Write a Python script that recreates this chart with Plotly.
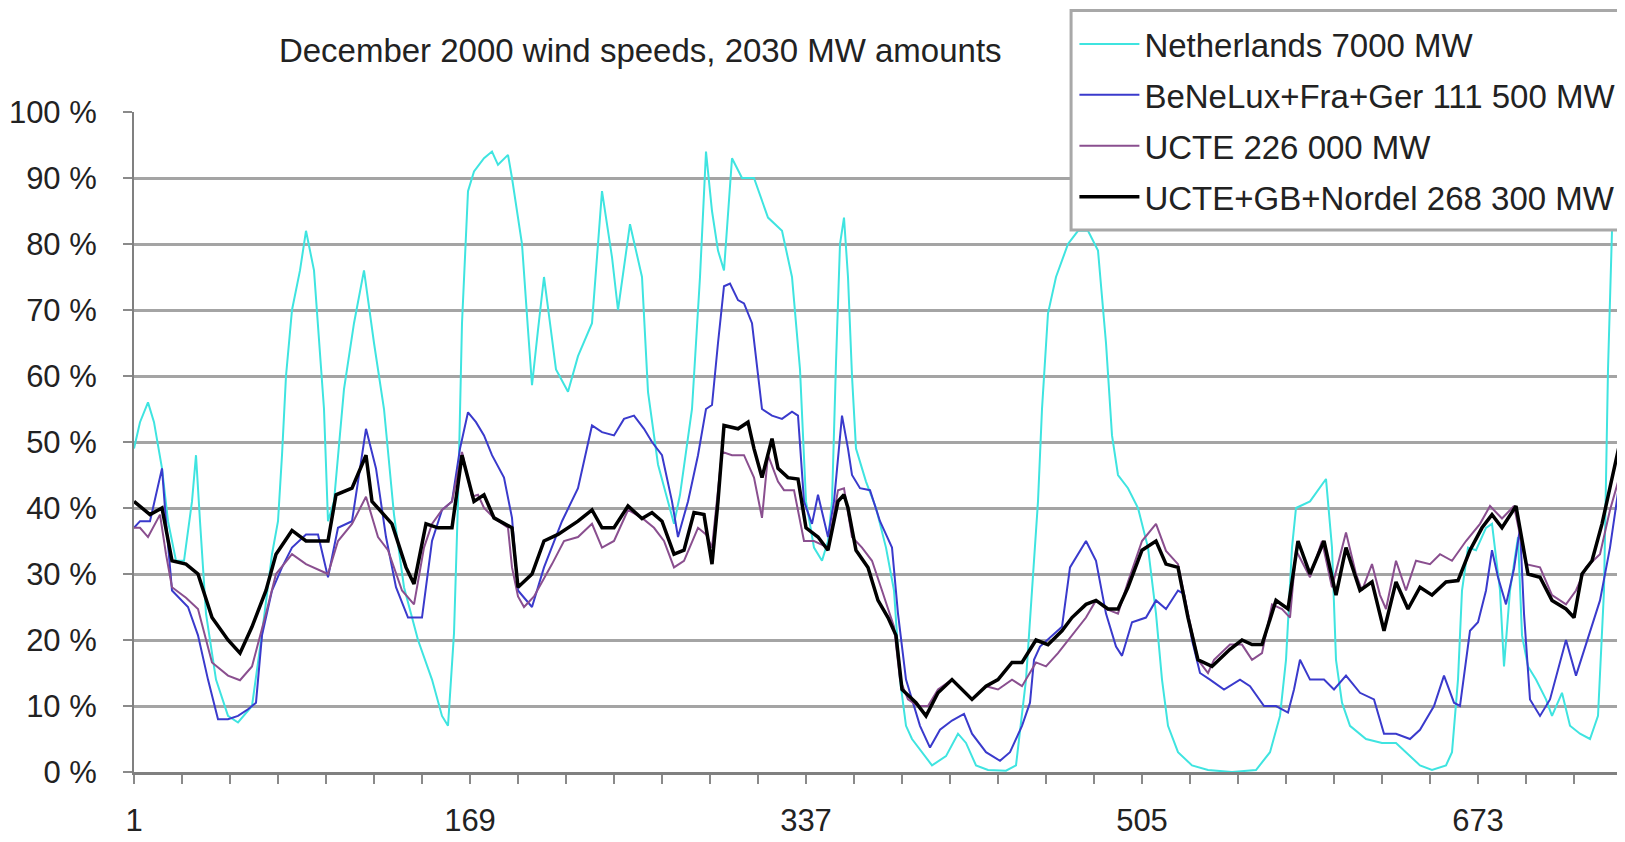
import plotly.graph_objects as go

# ---------------- data (hour of December, % of installed capacity) ----------------
series_names = [
    "Netherlands 7000 MW",
    "BeNeLux+Fra+Ger 111 500 MW",
    "UCTE 226 000 MW",
    "UCTE+GB+Nordel 268 300 MW",
]

x_tick_vals = [1, 169, 337, 505, 673]
x_tick_text = ["1", "169", "337", "505", "673"]
y_tick_vals = [0, 10, 20, 30, 40, 50, 60, 70, 80, 90, 100]
y_tick_text = ["0 %", "10 %", "20 %", "30 %", "40 %", "50 %", "60 %", "70 %", "80 %", "90 %", "100 %"]

netherlands_pts = [
    (1, 49), (4, 53), (8, 56), (11, 53), (15, 46), (18, 38), (22, 32), (26, 32), (30, 41), (32, 48),
    (34, 38), (37, 24), (42, 14), (48, 8.5), (53, 7.5), (60, 10), (65, 21), (70, 33), (73, 38), (75, 48),
    (77, 60), (80, 70), (84, 76), (87, 82), (91, 76), (93, 68), (96, 55), (98, 38), (101, 41), (106, 58),
    (111, 68), (116, 76), (121, 65), (126, 55), (131, 39), (136, 28), (143, 20), (150, 14), (155, 8.5),
    (158, 7), (161, 21), (163, 41), (165, 68), (168, 88), (171, 91), (176, 93), (180, 94), (183, 92),
    (188, 93.5), (190, 90), (195, 80), (198, 67), (200, 58.6), (203, 67), (206, 75), (209, 68), (212, 61),
    (218, 57.6), (223, 63), (230, 68), (235, 88), (240, 78), (243, 70), (249, 83), (255, 75), (258, 57.6),
    (263, 46.6), (271, 37.6), (274, 42), (280, 55), (284, 75), (287, 94), (290, 85), (293, 79), (296, 76),
    (300, 93), (305, 90), (311, 90), (318, 84), (325, 82), (330, 75), (334, 61), (337, 41), (341, 34),
    (345, 32), (348, 35), (350, 41), (352, 62), (354, 80), (356, 84), (358, 75), (360, 60), (362, 49),
    (367, 44), (372, 40), (377, 34), (381, 27.5), (384, 14), (387, 7), (390, 5), (395, 3), (400, 1),
    (407, 2.4), (413, 5.8), (417, 4.4), (422, 1), (428, 0.3), (437, 0.2), (442, 1), (447, 14), (450, 27.5),
    (453, 41), (455, 55), (458, 69.5), (462, 75), (468, 80), (473, 82), (478, 82), (483, 79), (487, 65),
    (490, 51), (493, 45), (498, 43), (503, 40), (508, 34), (512, 24), (515, 14), (518, 7), (523, 3),
    (530, 1), (538, 0.3), (550, 0), (562, 0.3), (569, 3), (574, 8.5), (577, 17), (580, 34), (582, 40),
    (589, 41), (595, 43.7), (597, 44.4), (600, 34), (602, 17), (605, 10.5), (609, 7), (617, 5), (625, 4.4),
    (632, 4.4), (637, 3), (644, 1), (650, 0.3), (657, 1), (660, 3), (663, 14), (665, 27.5), (668, 34),
    (672, 33.6), (677, 37), (680, 37.6), (684, 27.5), (686, 16), (689, 27.5), (693, 35.6), (695, 20.7),
    (698, 16), (702, 14), (707, 11), (710, 8.5), (715, 12), (719, 7), (724, 5.8), (729, 5), (733, 8.5),
    (736, 27.5), (738, 61), (740, 82), (742, 90), (744, 92),
]

benelux_pts = [
    (1, 37), (4, 38), (9, 38), (15, 46), (17, 38), (20, 27.5), (28, 25), (33, 20.7), (38, 14), (43, 8),
    (48, 8), (53, 8.5), (58, 9.5), (62, 10.5), (65, 20.7), (70, 27.5), (75, 31), (80, 34), (87, 36),
    (93, 36), (98, 29.5), (103, 37), (110, 38), (117, 52), (122, 46), (127, 35.6), (132, 28), (138, 23.4),
    (145, 23.4), (150, 35), (155, 39.7), (160, 41), (164, 49), (168, 54.5), (172, 53), (176, 51), (180, 48),
    (186, 44.6), (190, 38.5), (193, 27.5), (200, 25), (206, 31), (215, 38), (223, 43), (230, 52.5),
    (235, 51.5), (241, 51), (246, 53.5), (251, 54), (256, 52), (260, 50), (265, 48), (270, 41), (273, 35.6),
    (278, 41), (283, 48), (287, 55), (290, 55.6), (293, 65), (296, 73.6), (299, 74), (303, 71.5), (306, 71),
    (310, 68), (315, 55), (320, 54), (325, 53.5), (330, 54.6), (333, 54), (336, 41), (340, 37.6), (343, 42),
    (348, 35.6), (351, 41), (355, 54), (358, 49), (360, 45), (364, 43), (369, 42.7), (374, 38), (377, 36),
    (380, 34), (383, 24), (387, 14), (394, 7), (399, 3.7), (404, 6.4), (410, 7.8), (416, 8.8), (420, 5.8),
    (427, 3), (434, 1.7), (439, 3), (445, 7), (449, 10.5), (451, 17), (454, 19), (460, 20.7), (465, 22),
    (469, 31), (473, 33), (477, 35), (482, 32), (487, 24), (492, 19), (495, 17.6), (500, 22.7), (507, 23.4),
    (512, 26), (517, 24.7), (523, 27.5), (526, 27), (530, 20), (534, 15), (539, 14), (546, 12.5), (554, 14),
    (559, 13), (566, 10), (572, 10), (578, 9), (581, 12.5), (584, 17), (589, 14), (596, 14), (601, 12.5),
    (607, 14.6), (614, 12), (621, 11), (626, 5.8), (632, 5.8), (639, 5), (644, 6.4), (651, 10), (656, 14.6),
    (661, 10.5), (664, 10), (667, 17), (669, 21.4), (673, 22.7), (677, 27.5), (680, 33.6), (683, 29.5),
    (687, 25.4), (691, 30.8), (694, 37), (696, 24), (699, 11), (704, 8.5), (709, 11), (714, 16.6),
    (717, 20), (722, 14.6), (727, 19.3), (734, 26), (739, 34), (744, 44.4),
]

ucte_pts = [
    (1, 37), (4, 37), (8, 35.6), (14, 39), (17, 33), (20, 28), (27, 26.4), (33, 24.7), (40, 16.6),
    (48, 14.6), (54, 13.9), (60, 16), (67, 24), (72, 30), (80, 33), (87, 31.5), (98, 30), (103, 35),
    (110, 37.6), (117, 41.7), (123, 35.6), (128, 33.6), (135, 27.5), (141, 25.4), (146, 34), (150, 37.6),
    (155, 39.7), (160, 41), (165, 48.5), (170, 41.7), (173, 42), (176, 40), (181, 38.5), (188, 37),
    (190, 31), (193, 26.6), (196, 25), (201, 26.6), (210, 31.5), (216, 35), (223, 35.6), (230, 37.6),
    (235, 34), (241, 35), (248, 39.7), (255, 38.5), (261, 37), (266, 35), (271, 31), (276, 32), (283, 37),
    (287, 36), (290, 34), (295, 48.5), (300, 48), (306, 48), (311, 44.6), (315, 38.5), (318, 48), (323, 44),
    (326, 42.7), (331, 42.7), (336, 35), (341, 35), (348, 34), (353, 42.7), (356, 43), (360, 35.6),
    (365, 34), (370, 32), (375, 27.5), (381, 22), (384, 14), (388, 11), (393, 10), (398, 10), (403, 12.5),
    (410, 14), (415, 12.5), (420, 11), (427, 13), (433, 12.5), (440, 14), (445, 13), (452, 16.6), (457, 16),
    (463, 18), (470, 20.7), (477, 23.4), (482, 26), (487, 24.7), (493, 24), (498, 28.8), (505, 35),
    (512, 37.6), (517, 33.5), (523, 31.5), (528, 24), (533, 17), (538, 15), (541, 17), (549, 19.3),
    (555, 19.3), (560, 17), (565, 18), (570, 25.4), (575, 24.7), (579, 23.4), (582, 33.6), (589, 29.5),
    (595, 35), (600, 28), (607, 36.3), (612, 30), (615, 27.5), (620, 31.5), (624, 26.8), (627, 24.7),
    (632, 32), (637, 27.5), (642, 32), (649, 31.5), (654, 33), (660, 32), (667, 35), (674, 37.6), (679, 40.3),
    (685, 38.4), (691, 40.3), (697, 31.5), (704, 31), (710, 26.8), (717, 25.4), (722, 27.5), (727, 31),
    (734, 33), (739, 39.7), (744, 45),
]

ucte_gb_nordel_pts = [
    (1, 41), (5, 40), (9, 39), (15, 40), (20, 32), (27, 31.5), (33, 30), (40, 23.4), (48, 20), (54, 18),
    (60, 22), (67, 27.5), (72, 33), (80, 36.6), (87, 35), (98, 35), (102, 42), (110, 43), (117, 48),
    (120, 41), (130, 37.6), (137, 31), (141, 28.5), (147, 37.6), (153, 37), (160, 37), (165, 48), (171, 41),
    (176, 42), (181, 38.5), (186, 37.6), (190, 37), (193, 28), (200, 30), (206, 35), (213, 36), (223, 38),
    (230, 39.7), (235, 37), (241, 37), (248, 40.3), (255, 38.4), (260, 39.3), (265, 38), (271, 33),
    (276, 33.6), (281, 39.3), (286, 39), (290, 31.5), (293, 41), (296, 52.5), (303, 52), (308, 53),
    (311, 49), (315, 44.6), (320, 50.5), (323, 46), (328, 44.6), (333, 44.4), (337, 37), (343, 35.6),
    (348, 33.6), (353, 41), (356, 42), (358, 40), (362, 33.6), (368, 31), (373, 26), (378, 23.4),
    (382, 20.7), (385, 12.5), (392, 10.5), (397, 8.5), (403, 12), (410, 14), (415, 12.5), (420, 11),
    (427, 13), (433, 14), (440, 16.6), (445, 16.6), (452, 20), (458, 19.3), (465, 21.4), (470, 23.4),
    (477, 25.4), (482, 26), (488, 24.7), (493, 24.7), (498, 28), (505, 33.6), (512, 35), (517, 31.5),
    (523, 31), (528, 23.4), (533, 17), (540, 16), (549, 18.6), (555, 20), (560, 19.3), (565, 19.3),
    (572, 26), (578, 24.7), (583, 35), (589, 30), (596, 35), (602, 26.8), (607, 34), (614, 27.5),
    (620, 28.8), (626, 21.4), (632, 28.8), (638, 24.7), (644, 28), (650, 26.8), (657, 28.8), (663, 29),
    (669, 33.6), (675, 37), (680, 39), (685, 37), (692, 40.3), (698, 30), (704, 29.5), (710, 26),
    (717, 24.7), (721, 23.4), (725, 30), (730, 32), (735, 37.6), (740, 44.4), (744, 50),
]

series_points = [netherlands_pts, benelux_pts, ucte_pts, ucte_gb_nordel_pts]

# ---------------- styling ----------------
colors = ["#3fe4e0", "#3a3acc", "#8a4f8f", "#000000"]
widths = [2, 2, 2, 3.5]
FONT = "Liberation Sans, Arial, sans-serif"
TEXT_COLOR = "#222222"

# the page adds an 8 px body margin, so the figure is 8 px smaller than the window
FIG_W, FIG_H = 1617, 834

fig = go.Figure()
for name, pts, c, w in zip(series_names, series_points, colors, widths):
    hx = [p[0] for p in pts]
    vy = [p[1] for p in pts]
    fig.add_trace(go.Scatter(
        x=hx, y=vy, mode="lines", name=name, legendgroup=name,
        line=dict(color=c, width=w), hoverinfo="skip",
    ))

# legend frame (white box with grey border, running off the right edge as in the original)
fig.add_shape(
    type="rect", xref="paper", yref="paper",
    x0=0.6306, x1=1.02, y0=0.8212, y1=1.1538,
    fillcolor="white", line=dict(color="#a8a8a8", width=3), layer="above",
)

fig.update_layout(
    width=FIG_W, height=FIG_H,
    margin=dict(l=126, r=5, t=104, b=70, autoexpand=False),
    paper_bgcolor="white", plot_bgcolor="white",
    font=dict(family=FONT, color=TEXT_COLOR),
    title=dict(
        text="December 2000 wind speeds, 2030 MW amounts",
        x=0.391, y=0.9496, xanchor="center", yanchor="middle",
        font=dict(size=33, family=FONT, color=TEXT_COLOR),
    ),
    showlegend=True,
    legend=dict(
        xref="container", yref="container",
        x=0.6595, y=0.9904, xanchor="left", yanchor="top",
        bgcolor="rgba(0,0,0,0)", borderwidth=0,
        font=dict(size=33, family=FONT, color=TEXT_COLOR),
        traceorder="grouped", tracegroupgap=5, itemwidth=60,
    ),
    xaxis=dict(
        range=[1, 744], tickmode="array", tickvals=x_tick_vals, ticktext=x_tick_text,
        ticks="outside", ticklen=9, tickwidth=2, tickcolor="#8a8a8a",
        minor=dict(tick0=1, dtick=24, ticks="outside", ticklen=9, tickwidth=2, tickcolor="#8a8a8a", showgrid=False),
        showgrid=False, zeroline=False,
        showline=True, linecolor="#808080", linewidth=3,
        tickfont=dict(size=31, family=FONT, color=TEXT_COLOR),
        ticklabelstandoff=10,
    ),
    yaxis=dict(
        range=[0, 100], tickmode="array", tickvals=y_tick_vals, ticktext=y_tick_text,
        ticks="outside", ticklen=9, tickwidth=2, tickcolor="#8a8a8a",
        showgrid=True, gridcolor="#a4a4a4", gridwidth=3, zeroline=False,
        showline=True, linecolor="#808080", linewidth=2, mirror=True,
        tickfont=dict(size=31, family=FONT, color=TEXT_COLOR),
        ticklabelstandoff=20,
    ),
)

fig.write_html("out.html")
